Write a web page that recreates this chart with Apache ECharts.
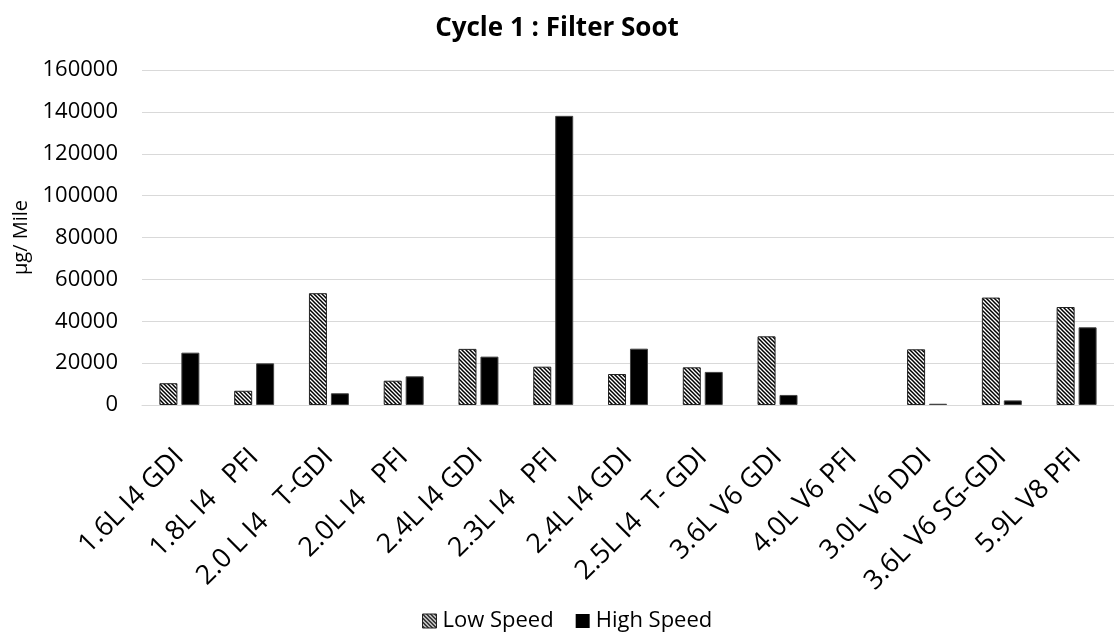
<!DOCTYPE html>
<html>
<head>
<meta charset="utf-8">
<script src="https://cdn.jsdelivr.net/npm/echarts@6/dist/echarts.min.js"></script>
<style>
html,body{margin:0;padding:0;background:#fff;}
#chart{width:1114px;height:639px;}
</style>
</head>
<body>
<div id="chart"></div>
<script>
const categories = ["1.6L I4 GDI", "1.8L I4   PFI", "2.0 L I4   T-GDI", "2.0L I4   PFI", "2.4L I4 GDI", "2.3L I4   PFI", "2.4L I4 GDI", "2.5L I4  T- GDI", "3.6L V6 GDI", "4.0L V6 PFI", "3.0L V6 DDI", "3.6L V6 SG-GDI", "5.9L V8 PFI"];
const lowSpeed = [10400, 6800, 53400, 11600, 26800, 18300, 14800, 18000, 32800, 0, 26600, 51300, 46800];
const highSpeed = [25000, 19900, 5600, 13700, 23100, 138100, 26900, 15800, 4800, 0, 600, 2200, 37100];
const seriesNames = ["Low Speed", "High Speed"];
const yTicks = { min: 0, max: 160000, interval: 20000 };

function hatch() {
  const c = document.createElement('canvas');
  c.width = 4; c.height = 4;
  const g = c.getContext('2d');
  g.fillStyle = '#fff';
  g.fillRect(0, 0, 4, 4);
  g.strokeStyle = '#000';
  g.lineWidth = 1.5;
  g.beginPath();
  g.moveTo(-1, -1); g.lineTo(5, 5);
  g.moveTo(-1, 3); g.lineTo(1, 5);
  g.moveTo(3, -1); g.lineTo(5, 1);
  g.stroke();
  return c;
}
const hatchPattern = { image: hatch(), repeat: 'repeat' };

const font = '"Open Sans", sans-serif';
const noZero = v => (v === 0 ? null : v);
const chart = echarts.init(document.getElementById('chart'), null, { renderer: 'canvas' });
chart.setOption({
  animation: false,
  backgroundColor: '#fff',
  title: {
    text: 'Cycle 1 : Filter Soot',
    left: 'center',
    top: 11,
    textStyle: { fontFamily: font, fontSize: 26, fontWeight: 'bold', color: '#000' }
  },
  legend: {
    bottom: 2,
    left: 417,
    icon: 'rect',
    itemWidth: 14,
    itemHeight: 14,
    itemGap: 22,
    textStyle: { fontFamily: font, fontSize: 22, color: '#000', padding: [0, 0, 0, 1] },
    data: [
      { name: seriesNames[0], itemStyle: { color: hatchPattern, borderColor: '#222', borderWidth: 1 } },
      { name: seriesNames[1], itemStyle: { color: '#000', borderWidth: 0 } }
    ]
  },
  grid: { left: 142, top: 70, width: 977, height: 335, containLabel: false },
  xAxis: {
    type: 'category',
    data: categories,
    axisLine: { show: true, lineStyle: { color: '#d9d9d9', width: 1 } },
    axisTick: { show: false },
    axisLabel: {
      rotate: 45,
      interval: 0,
      margin: 48,
      fontFamily: font,
      fontSize: 27,
      color: '#000'
    }
  },
  yAxis: {
    type: 'value',
    min: yTicks.min,
    max: yTicks.max,
    interval: yTicks.interval,
    name: 'µg/ Mile',
    nameLocation: 'middle',
    nameGap: 108,
    nameRotate: 90,
    nameTextStyle: { fontFamily: font, fontSize: 20, color: '#000' },
    axisLine: { show: false },
    axisTick: { show: false },
    splitLine: { lineStyle: { color: '#d9d9d9', width: 1 } },
    axisLabel: { fontFamily: font, fontSize: 22, color: '#000', margin: 24, formatter: v => String(v) }
  },
  series: [
    {
      name: seriesNames[0],
      type: 'bar',
      data: lowSpeed.map(noZero),
      barWidth: 18,
      barGap: '22%',
      itemStyle: { color: hatchPattern, borderColor: '#222', borderWidth: 1 }
    },
    {
      name: seriesNames[1],
      type: 'bar',
      data: highSpeed.map(noZero),
      barWidth: 18,
      itemStyle: { color: '#000', borderColor: '#444', borderWidth: 1 }
    }
  ]
});
</script>
</body>
</html>
